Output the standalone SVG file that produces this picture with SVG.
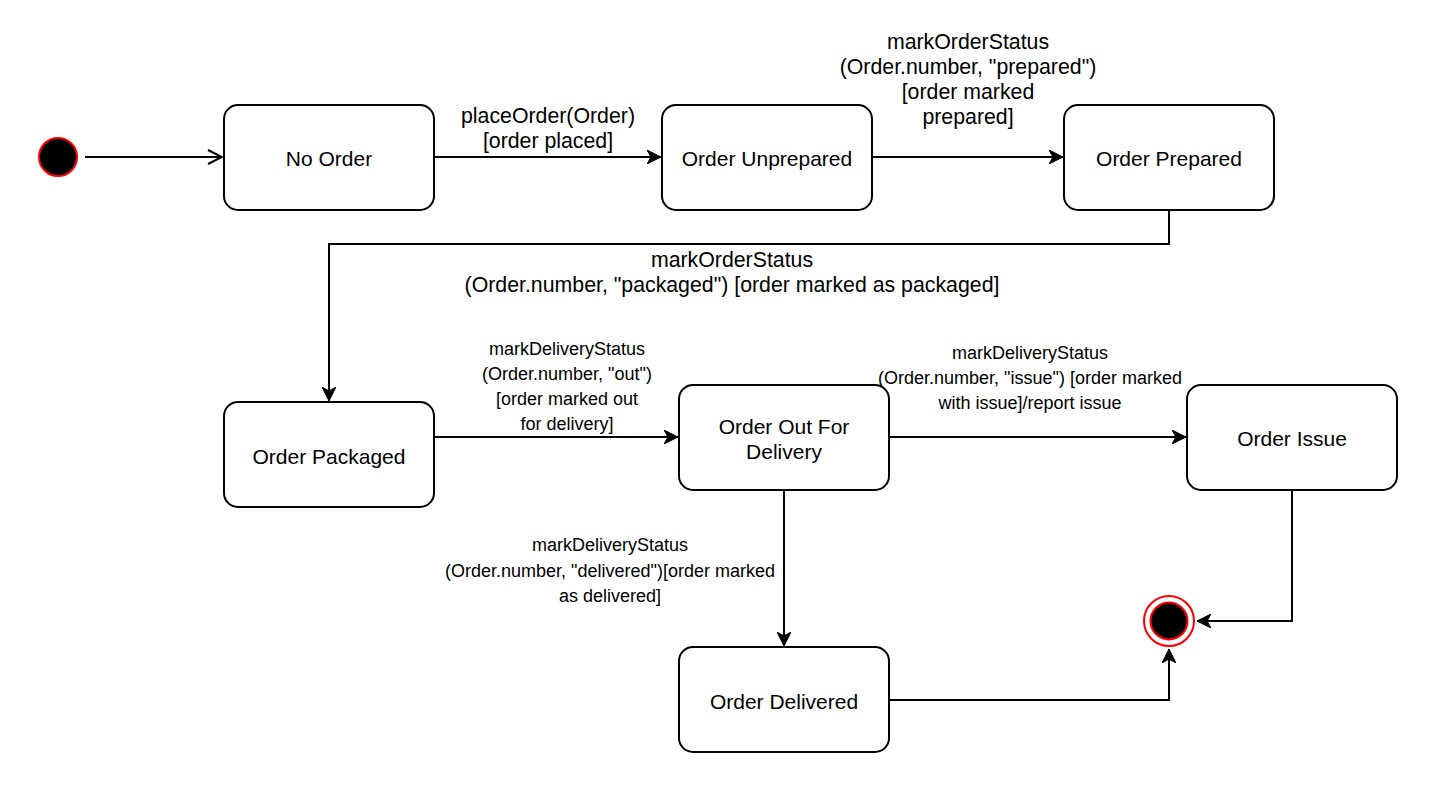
<svg xmlns="http://www.w3.org/2000/svg" width="1450" height="785" viewBox="0 0 1450 785">
<defs>
<style>
.st{fill:#fff;stroke:#000;stroke-width:2}
.lbl{font-family:"Liberation Sans",Arial,sans-serif;font-size:21px;fill:#000;text-anchor:middle;dominant-baseline:central}
.el{font-family:"Liberation Sans",Arial,sans-serif;font-size:21.3px;fill:#000;text-anchor:middle;dominant-baseline:central}
.es{font-family:"Liberation Sans",Arial,sans-serif;font-size:18px;fill:#000;text-anchor:middle;dominant-baseline:central}
.cn{fill:none;stroke:#000;stroke-width:2}
</style>
<marker id="arr" markerUnits="userSpaceOnUse" markerWidth="16" markerHeight="14" refX="14" refY="7" orient="auto">
<path d="M0,0 L14,7 L0,14 L4,7 z" fill="#000" stroke="#000" stroke-width="1"/>
</marker>
<marker id="open" markerUnits="userSpaceOnUse" markerWidth="18" markerHeight="18" refX="16" refY="9" orient="auto">
<path d="M2,2 L16,9 L2,16" fill="none" stroke="#000" stroke-width="2"/>
</marker>
</defs>
<rect width="1450" height="785" fill="#fff"/>
<g id="connectors">
<line class="cn" x1="85" y1="157" x2="222" y2="157" marker-end="url(#open)"/>
<line class="cn" x1="434" y1="157" x2="661" y2="157" marker-end="url(#arr)"/>
<line class="cn" x1="872" y1="157" x2="1063" y2="157" marker-end="url(#arr)"/>
<polyline class="cn" points="1169,210 1169,244 329,244 329,401" marker-end="url(#arr)"/>
<line class="cn" x1="434" y1="437" x2="678" y2="437" marker-end="url(#arr)"/>
<line class="cn" x1="889" y1="437" x2="1186" y2="437" marker-end="url(#arr)"/>
<line class="cn" x1="784" y1="490" x2="784" y2="646" marker-end="url(#arr)"/>
<polyline class="cn" points="889,700 1169,700 1169,649" marker-end="url(#arr)"/>
<polyline class="cn" points="1292,490 1292,621 1197,621" marker-end="url(#arr)"/>
<text class="el" x="548" y="116">placeOrder(Order)</text>
<text class="el" x="548" y="141">[order placed]</text>
<text class="el" x="968" y="42">markOrderStatus</text>
<text class="el" x="968" y="67">(Order.number, "prepared")</text>
<text class="el" x="968" y="92">[order marked</text>
<text class="el" x="968" y="117">prepared]</text>
<text class="el" x="732" y="260">markOrderStatus</text>
<text class="el" x="732" y="285">(Order.number, "packaged") [order marked as packaged]</text>
<text class="es" x="567" y="349">markDeliveryStatus</text>
<text class="es" x="567" y="374">(Order.number, "out")</text>
<text class="es" x="567" y="399">[order marked out</text>
<text class="es" x="567" y="424">for delivery]</text>
<text class="es" x="1030" y="353">markDeliveryStatus</text>
<text class="es" x="1030" y="378">(Order.number, "issue") [order marked</text>
<text class="es" x="1030" y="403">with issue]/report issue</text>
<text class="es" x="610" y="545">markDeliveryStatus</text>
<text class="es" x="610" y="571">(Order.number, "delivered")[order marked</text>
<text class="es" x="610" y="596">as delivered]</text>
</g>
<g id="initial">
<circle cx="58" cy="157" r="19" fill="#000" stroke="#f00" stroke-width="2"/>
</g>
<g id="final">
<circle cx="1169" cy="621" r="25" fill="#fff" stroke="#f00" stroke-width="2"/>
<circle cx="1169" cy="621" r="18.5" fill="#000" stroke="#f00" stroke-width="2"/>
</g>
<g id="no-order">
<rect class="st" x="224" y="105" width="210" height="105" rx="14"/>
<text class="lbl" x="329" y="158">No Order</text>
</g>
<g id="order-unprepared">
<rect class="st" x="662" y="105" width="210" height="105" rx="14"/>
<text class="lbl" x="767" y="158">Order Unprepared</text>
</g>
<g id="order-prepared">
<rect class="st" x="1064" y="105" width="210" height="105" rx="14"/>
<text class="lbl" x="1169" y="158">Order Prepared</text>
</g>
<g id="order-packaged">
<rect class="st" x="224" y="402" width="210" height="105" rx="14"/>
<text class="lbl" x="329" y="456">Order Packaged</text>
</g>
<g id="order-out-for-delivery">
<rect class="st" x="679" y="385" width="210" height="105" rx="14"/>
<text class="lbl" x="784" y="426">Order Out For</text>
<text class="lbl" x="784" y="451">Delivery</text>
</g>
<g id="order-issue">
<rect class="st" x="1187" y="385" width="210" height="105" rx="14"/>
<text class="lbl" x="1292" y="438">Order Issue</text>
</g>
<g id="order-delivered">
<rect class="st" x="679" y="647" width="210" height="105" rx="14"/>
<text class="lbl" x="784" y="701">Order Delivered</text>
</g>
</svg>
